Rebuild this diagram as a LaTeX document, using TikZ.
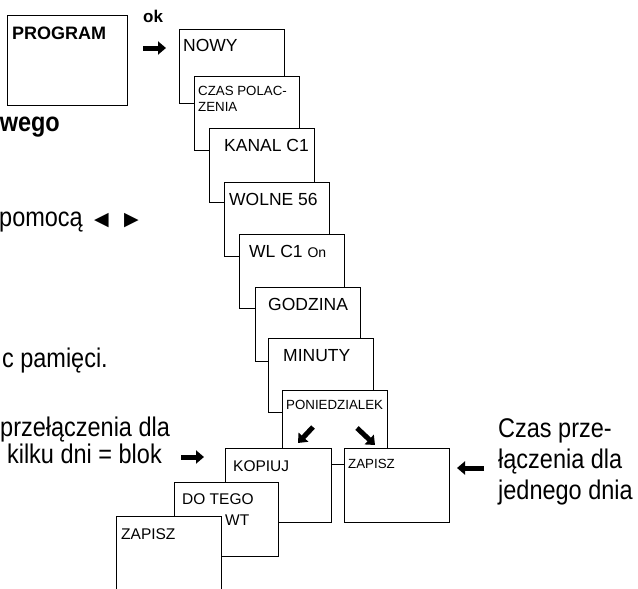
\documentclass[tikz,border=0pt]{standalone}
\usepackage{fontspec}
\setmainfont{Liberation Sans}
\newfontfamily\symfont{DejaVu Sans}
\newfontfamily\sidefont[FakeStretch=0.87]{Liberation Sans}
\usetikzlibrary{arrows.meta}
\newcommand{\bigtxt}{\fontsize{17.5}{20}\selectfont}
\newcommand{\midtxt}{\fontsize{15.5}{18}\selectfont}
\newcommand{\smalltxt}{\fontsize{13.3}{16}\selectfont}
\newcommand{\sidetxt}{\sidefont\fontsize{27}{31}\selectfont}
\begin{document}
\begin{tikzpicture}[x=1pt, y=-1pt,
    screen/.style={draw, fill=white, line width=0.8pt, minimum width=105pt, minimum height=74pt, anchor=north west, inner sep=0pt},
    lbl/.style={anchor=north west, inner sep=0pt, align=left},
    side/.style={anchor=base east, inner sep=0pt, font=\sidetxt},
    pointer/.style={line width=5pt, -{Triangle[length=8pt,width=13pt]}}]
    \useasboundingbox (0,0) rectangle (638,589);
    \clip (0,0) rectangle (638,589);

    \node[screen, minimum width=120pt, minimum height=90pt] (prog) at (7,15) {};
    \node[lbl, font=\fontsize{18}{20}\selectfont\bfseries] (progtxt) at ([shift={(5,12)}]prog.north west) {PROGRAM};
    \node[anchor=base west, inner sep=0pt, font=\fontsize{17}{20}\selectfont\bfseries] (ok) at (143,22) {ok};

    \node[screen] (nowy) at (179,29) {};
    \node[lbl, font=\bigtxt] (nowytxt) at ([shift={(4,10)}]nowy.north west) {NOWY};
    \node[screen] (czas) at (194,76) {};
    \node[lbl, font=\smalltxt] (czastxt) at ([shift={(4,10)}]czas.north west) {CZAS POLAC-\\ZENIA};
    \node[screen] (kanal) at (209,128) {};
    \node[lbl, font=\bigtxt] (kanaltxt) at ([shift={(15,11)}]kanal.north west) {KANAL C1};
    \node[screen] (wolne) at (224,182) {};
    \node[lbl, font=\bigtxt] (wolnetxt) at ([shift={(5,11)}]wolne.north west) {WOLNE 56};
    \node[screen] (wlc) at (239,234) {};
    \node[lbl, font=\bigtxt] (wlctxt) at ([shift={(10,11)}]wlc.north west) {WL C1 {\fontsize{14}{16}\selectfont On}};
    \node[screen] (godz) at (255,287) {};
    \node[lbl, font=\bigtxt] (godztxt) at ([shift={(13,11)}]godz.north west) {GODZINA};
    \node[screen] (minuty) at (268,338) {};
    \node[lbl, font=\bigtxt] (minutytxt) at ([shift={(15,11)}]minuty.north west) {MINUTY};
    \node[screen] (pon) at (282,390) {};
    \node[lbl, font=\smalltxt] (pontxt) at ([shift={(4,10)}]pon.north west) {PONIEDZIALEK};
    \node[screen] (zapR) at (344,448) {};
    \node[lbl, font=\smalltxt] (zapRtxt) at ([shift={(4,11)}]zapR.north west) {ZAPISZ};
    \node[screen, minimum width=106pt] (kop) at (225,448) {};
    \node[lbl, font=\midtxt] (koptxt) at ([shift={(8,12)}]kop.north west) {KOPIUJ};
    \node[screen, minimum width=104pt] (dotego) at (174,482) {};
    \node[lbl, font=\midtxt] (dotegotxt) at ([shift={(8,11)}]dotego.north west) {DO TEGO};
    \node[lbl, font=\midtxt] (wt) at ([shift={(51,33)}]dotego.north west) {WT};
    \node[screen, minimum height=80pt] (zapL) at (116,516) {};
    \node[lbl, font=\midtxt] (zapLtxt) at ([shift={(5,12)}]zapL.north west) {ZAPISZ};

    \node[side, font=\sidetxt\bfseries] (wego) at (60,131) {wego};
    \node[side] (pomoca) at (83,226) {pomocą};
    \node[inner sep=0pt, font=\symfont\fontsize{19}{21}\selectfont] (lt) at (101.5,221) {◀};
    \node[inner sep=0pt, font=\symfont\fontsize{19}{21}\selectfont] (rt) at (131.5,221) {▶};
    \node[side] (pamieci) at (108,367) {c pamięci.};
    \node[side, anchor=base west] (blok1) at (0,436) {przełączenia dla};
    \node[side] (blok2) at (162,463) {kilku dni = blok};
    \node[lbl, font=\sidetxt] (dzien) at (498,418) {Czas prze-\\łączenia dla\\jednego dnia};

    \coordinate (ok1) at (143,48);  \coordinate (ok2) at (166,48);
    \coordinate (bl1) at (181,457); \coordinate (bl2) at (204,457);
    \coordinate (dz1) at (484,468); \coordinate (dz2) at (457,468);
    \coordinate (pl1) at (313,427); \coordinate (pl2) at (298,443);
    \coordinate (pr1) at (357,428); \coordinate (pr2) at (375,445);
    \draw[pointer] (ok1) -- (ok2);
    \draw[pointer] (bl1) -- (bl2);
    \draw[pointer] (dz1) -- (dz2);
    \draw[pointer] (pl1) -- (pl2);
    \draw[pointer] (pr1) -- (pr2);
\end{tikzpicture}
\end{document}
